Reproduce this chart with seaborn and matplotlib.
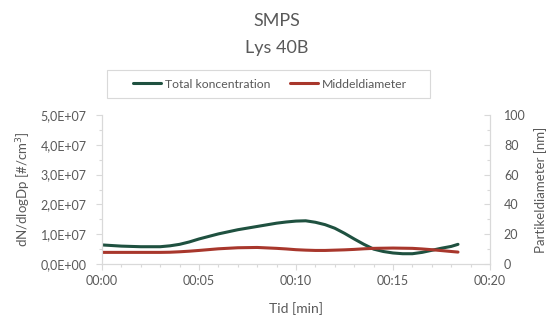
import matplotlib
matplotlib.use("Agg")
import matplotlib.pyplot as plt
import matplotlib.ticker as mticker
from matplotlib.patches import Rectangle
import numpy as np
import pandas as pd
import seaborn as sns

# Measurement times (minutes) and SMPS readings
time_min = [0, 1, 2, 3, 3.5, 4, 4.5, 5, 6, 7, 8, 9, 9.5, 10, 10.5, 11, 11.5, 12, 12.5,
            13, 13.5, 14, 14.5, 15, 15.5, 16, 16.5, 17, 17.5, 18, 18.35]
total_conc = [6.4e6, 6.0e6, 5.8e6, 5.8e6, 6.1e6, 6.6e6, 7.4e6, 8.4e6, 1.01e7, 1.15e7,
              1.26e7, 1.37e7, 1.41e7, 1.44e7, 1.45e7, 1.40e7, 1.32e7, 1.20e7, 1.03e7,
              8.4e6, 6.6e6, 5.0e6, 4.2e6, 3.7e6, 3.45e6, 3.45e6, 3.9e6, 4.6e6, 5.3e6,
              5.9e6, 6.6e6]
mean_diam = [7.8, 7.8, 7.8, 7.8, 7.9, 8.2, 8.6, 9.1, 10.2, 10.9, 11.1, 10.5, 10.1, 9.6,
             9.3, 9.1, 9.1, 9.3, 9.5, 9.8, 10.2, 10.5, 10.6, 10.7, 10.6, 10.5, 10.1,
             9.6, 9.0, 8.4, 8.0]

x_ticks = [0, 5, 10, 15, 20]
left_ticks = [0, 1e7, 2e7, 3e7, 4e7, 5e7]
right_ticks = [0, 20, 40, 60, 80, 100]

title_lines = ["SMPS", "Lys 40B"]
series_names = ["Total koncentration", "Middeldiameter"]

df = pd.DataFrame({"t": time_min, "conc": total_conc, "diam": mean_diam})

sns.set_theme(style="white")
plt.rcParams["font.family"] = ["Lato", "DejaVu Sans"]

TXT = "#595959"
AXC = "#d9d9d9"
GREEN = "#1f5140"
RED = "#a8372c"

fig = plt.figure(figsize=(5.53, 3.24), dpi=100)
W, H = 553, 324
left, right, top, bottom = 102, 490, 115, 264
ax = fig.add_axes([left / W, 1 - bottom / H, (right - left) / W, (bottom - top) / H])
ax2 = ax.twinx()

sns.lineplot(data=df, x="t", y="conc", ax=ax, color=GREEN, lw=2.2, label=series_names[0], legend=False)
sns.lineplot(data=df, x="t", y="diam", ax=ax2, color=RED, lw=2.2, label=series_names[1], legend=False)
for a in (ax, ax2):
    for ln in a.get_lines():
        ln.set_solid_joinstyle("round")

ax.set_xlim(0, 20)
ax.set_ylim(0, 5e7)
ax2.set_ylim(0, 100)

ax.set_xticks(x_ticks)
ax.xaxis.set_minor_locator(mticker.MultipleLocator(1))
ax.xaxis.set_major_formatter(mticker.FuncFormatter(lambda v, p: f"00:{int(v):02d}"))
ax.set_yticks(left_ticks)
ax.yaxis.set_minor_locator(mticker.MultipleLocator(5e6))


def sci_comma(v, p):
    if v == 0:
        return "0,0E+00"
    exp = int(np.floor(np.log10(abs(v))))
    mant = v / 10 ** exp
    return f"{mant:.1f}".replace(".", ",") + f"E+{exp:02d}"


ax.yaxis.set_major_formatter(mticker.FuncFormatter(sci_comma))
ax2.set_yticks(right_ticks)
ax2.yaxis.set_minor_locator(mticker.MultipleLocator(10))

for a in (ax, ax2):
    for s in a.spines.values():
        s.set_color(AXC)
        s.set_linewidth(0.8)
    a.spines["top"].set_visible(False)
    a.tick_params(which="both", colors=AXC, labelcolor=TXT, labelsize=9, width=0.8)
    a.tick_params(which="major", length=4)
    a.tick_params(which="minor", length=2.5)
    a.grid(False)

ax.tick_params(axis="x", which="both", bottom=True, direction="out", pad=4)
ax.tick_params(axis="y", which="both", left=True, direction="out", pad=7)
ax2.tick_params(axis="y", which="both", right=True, direction="in", pad=10)

ax.set_xlabel("Tid [min]", color=TXT, fontsize=10, labelpad=11)
ax.set_ylabel("dN/dlogDp [#/cm$^3$]", color=TXT, fontsize=9.5)
ax.yaxis.set_label_coords((33 - left) / (right - left), 0.5)
ax2.set_ylabel("Partikeldiameter [nm]", color=TXT, fontsize=9.5, labelpad=6)

fig.text(0.5, 1 - 21 / H, title_lines[0], ha="center", va="center", fontsize=13, color=TXT)
fig.text(0.5, 1 - 48 / H, title_lines[1], ha="center", va="center", fontsize=13, color=TXT)

# Legend box outline, with the entries centred inside it
fig.patches.append(Rectangle((107 / W, 1 - 98 / H), 323 / W, 28 / H, transform=fig.transFigure,
                             fill=False, edgecolor=AXC, linewidth=0.8))
h1, l1 = ax.get_legend_handles_labels()
h2, l2 = ax2.get_legend_handles_labels()
leg = fig.legend(h1 + h2, l1 + l2, loc="center", bbox_to_anchor=(270 / W, 1 - 84 / H),
                 ncol=2, fontsize=8.8, frameon=False, handlelength=2.3,
                 handletextpad=0.3, columnspacing=1.6, borderpad=0, borderaxespad=0)
for t in leg.get_texts():
    t.set_color(TXT)

fig.savefig("out.png", dpi=100)
